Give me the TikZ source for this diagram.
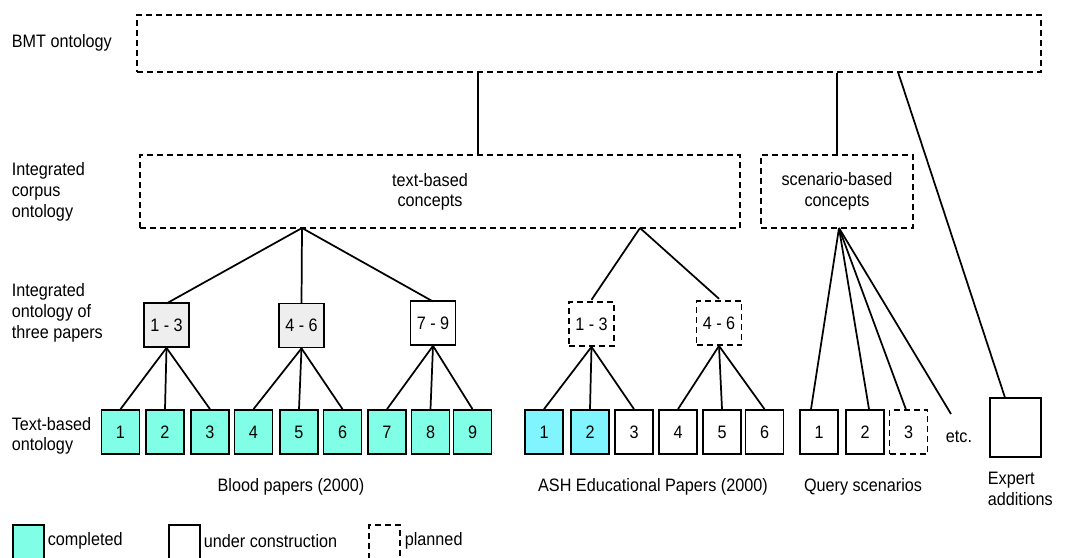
\documentclass[tikz,border=0pt]{standalone}
\usepackage{fontspec}
\setmainfont[FakeStretch=0.9]{Liberation Sans}
\begin{document}
\begin{tikzpicture}[x=0.75pt,y=-0.75pt,
  line width=1.3pt,
  every node/.style={font=\fontsize{13.5}{15.5}\selectfont},
  dsh/.style={dash pattern=on 4.5pt off 3pt},
  leaf/.style={draw,minimum width=28.5pt,minimum height=33pt,inner sep=0pt},
  grp/.style={draw,minimum width=33.75pt,minimum height=33pt,inner sep=0pt},
  done/.style={fill=doneblood},
  doneash/.style={fill=donecyan},
  lbl/.style={align=left,anchor=west,inner sep=0pt},
  conn/.style={line width=1.3pt}]
\definecolor{doneblood}{HTML}{80FFE6}
\definecolor{donecyan}{HTML}{80F4FF}
\definecolor{grayfill}{HTML}{EEEEEE}
\useasboundingbox (0,0) rectangle (1067,557);

% row labels
\node[lbl] (l1) at (11,43) {BMT ontology};
\node[lbl] (l2) at (11,192) {Integrated\\corpus\\ontology};
\node[lbl] (l3) at (11,313) {Integrated\\ontology of\\three papers};
\node[lbl] (l4) at (11,436) {Text-based\\ontology};

% top level
\node[draw,dsh,minimum width=678pt,minimum height=42.75pt,inner sep=0pt] (bmt) at (589,43.5) {};
\node[draw,dsh,minimum width=450pt,minimum height=54.75pt,inner sep=0pt] (tc) at (440,191.5) {};
\node[align=center] (tct) at (430,192) {text-based\\concepts};
\node[draw,dsh,minimum width=114pt,minimum height=54.75pt,align=center,inner sep=0pt] (sc) at (837,191.5) {scenario-based\\concepts};

% level 3
\node[grp,fill=grayfill] (i13) at (166.5,325) {1 - 3};
\node[grp,fill=grayfill] (i46) at (301.5,325.5) {4 - 6};
\node[grp] (i79) at (433,323) {7 - 9};
\node[grp,dsh] (a13) at (591.5,324) {1 - 3};
\node[grp,dsh] (a46) at (719,323) {4 - 6};

% leaves: blood
\node[leaf,done] (b1) at (120.5,432) {1};
\node[leaf,done] (b2) at (165,432) {2};
\node[leaf,done] (b3) at (210,432) {3};
\node[leaf,done] (b4) at (253.5,432) {4};
\node[leaf,done] (b5) at (299,432) {5};
\node[leaf,done] (b6) at (342.5,432) {6};
\node[leaf,done] (b7) at (387,432) {7};
\node[leaf,done] (b8) at (430.5,432) {8};
\node[leaf,done] (b9) at (472.5,432) {9};
% leaves: ASH
\node[leaf,doneash] (s1) at (544,432) {1};
\node[leaf,doneash] (s2) at (590,432) {2};
\node[leaf] (s3) at (634,432) {3};
\node[leaf] (s4) at (678,432) {4};
\node[leaf] (s5) at (722,432) {5};
\node[leaf] (s6) at (764.5,432) {6};
% leaves: query
\node[leaf] (q1) at (819,432) {1};
\node[leaf] (q2) at (865,432) {2};
\node[leaf,dsh] (q3) at (908.5,432) {3};
\node[inner sep=0pt] (etc) at (959,437) {etc.};
\coordinate (etcend) at (951,414);
% expert
\node[draw,minimum width=38.25pt,minimum height=44.25pt,inner sep=0pt] (ex) at (1015.5,427.5) {};
\node[lbl] (ext) at (987,489) {Expert\\additions};

% group labels
\node (gb) at (291,487) {Blood papers (2000)};
\node (ga) at (653,487) {ASH Educational Papers (2000)};
\node (gq) at (863,487) {Query scenarios};

% connection points
\coordinate (tcT) at (478,155);
\coordinate (scT) at (837,155);
\coordinate (exB) at (898,72);
\coordinate (tcA) at (302,228);
\coordinate (asA) at (640,228);
\coordinate (scA) at (839,228);

\draw[conn] (tcT |- bmt.south) -- (tcT);
\draw[conn] (scT |- bmt.south) -- (scT);
\draw[conn] (exB) -- ([xshift=-8pt]ex.north);

\draw[conn] (tcA) -- ([yshift=-1pt]i13.north);
\draw[conn] (tcA) -- ([yshift=-1pt]i46.north);
\draw[conn] (tcA) -- ([yshift=-1pt]i79.north);
\draw[conn] (asA) -- ([yshift=1pt]a13.north);
\draw[conn] (asA) -- ([yshift=1pt]a46.north);

\foreach \p/\c in {i13/b1,i13/b2,i13/b3,i46/b4,i46/b5,i46/b6,i79/b7,i79/b8,i79/b9,a13/s1,a13/s2,a13/s3,a46/s4,a46/s5,a46/s6}
  \draw[conn] (\p.south) -- (\c.north);

\draw[conn] (scA) -- ([xshift=-6pt]q1.north);
\draw[conn] (scA) -- ([xshift=3pt]q2.north);
\draw[conn] (scA) -- ([xshift=-2pt]q3.north);
\draw[conn] (scA) -- (etcend);

% legend
\node[draw,fill=doneblood,minimum width=23.25pt,minimum height=30pt,inner sep=0pt,anchor=north west] (lg1) at (12,524) {};
\node[lbl] (lg1t) at (47,541) {completed};
\node[draw,minimum width=23.25pt,minimum height=30pt,inner sep=0pt,anchor=north west] (lg2) at (168,524) {};
\node[lbl] (lg2t) at (203,541) {under construction};
\node[draw,dsh,minimum width=23.25pt,minimum height=30pt,inner sep=0pt,anchor=north west] (lg3) at (368,524) {};
\node[lbl] (lg3t) at (404,541) {planned};
\end{tikzpicture}
\end{document}
